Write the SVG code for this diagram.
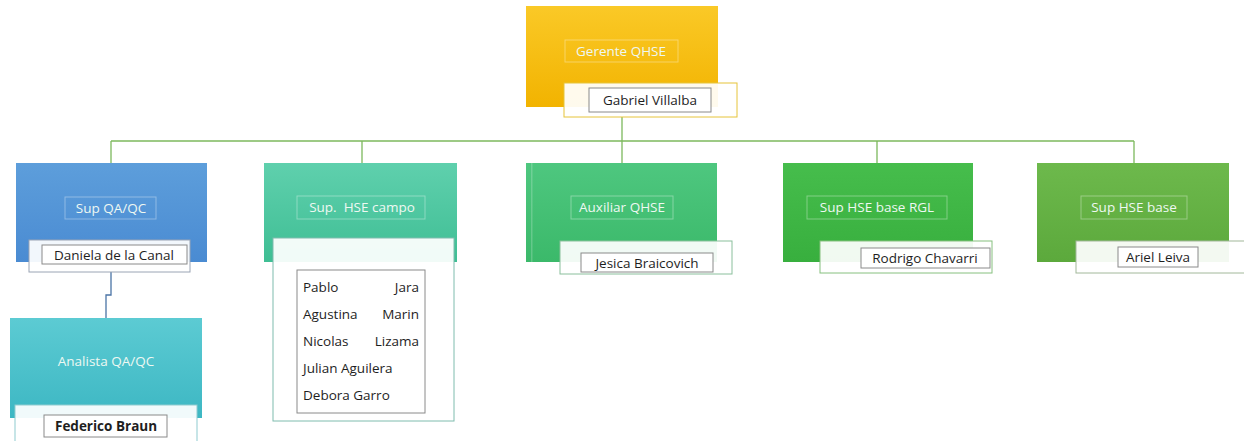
<svg xmlns="http://www.w3.org/2000/svg" width="1244" height="441" viewBox="0 0 1244 441">
<defs>
<linearGradient id="gOrange" x1="0" y1="0" x2="0" y2="1"><stop offset="0" stop-color="#fac927"/><stop offset="1" stop-color="#f2b300"/></linearGradient>
<linearGradient id="gBlue" x1="0" y1="0" x2="0" y2="1"><stop offset="0" stop-color="#5d9edb"/><stop offset="1" stop-color="#4a8bd2"/></linearGradient>
<linearGradient id="gTeal" x1="0" y1="0" x2="0" y2="1"><stop offset="0" stop-color="#5fd0ad"/><stop offset="1" stop-color="#3fbe94"/></linearGradient>
<linearGradient id="gCyan" x1="0" y1="0" x2="0" y2="1"><stop offset="0" stop-color="#5ccbd3"/><stop offset="1" stop-color="#3db7c3"/></linearGradient>
<linearGradient id="gGreen1" x1="0" y1="0" x2="0" y2="1"><stop offset="0" stop-color="#4ec77f"/><stop offset="1" stop-color="#3bb96a"/></linearGradient>
<linearGradient id="gGreen2" x1="0" y1="0" x2="0" y2="1"><stop offset="0" stop-color="#46bd4c"/><stop offset="1" stop-color="#38af3e"/></linearGradient>
<linearGradient id="gGreen3" x1="0" y1="0" x2="0" y2="1"><stop offset="0" stop-color="#6db94c"/><stop offset="1" stop-color="#5ca93c"/></linearGradient>
</defs>
<style>
.title{font-family:"Open Sans","Liberation Sans",sans-serif;font-size:13.5px;fill:#eef8f2;text-anchor:middle;white-space:pre}
.tbox{fill:none;stroke:#ffffff;stroke-opacity:0.35;stroke-width:1}
.card{fill:#ffffff;fill-opacity:0.93;stroke-width:1}
.name{fill:#ffffff;stroke:#8a8a8a;stroke-width:1}
.nt{font-family:"Open Sans","Liberation Sans",sans-serif;font-size:13.5px;fill:#1e1e1e}
.nc{text-anchor:middle}
.conn{fill:none;stroke:#7cb85c;stroke-width:1.3}
</style>
<g id="connectors">
<path class="conn" d="M622 117 V141"/>
<path class="conn" d="M111 141 H1134"/>
<path class="conn" d="M111 141 V163"/>
<path class="conn" d="M362 141 V163"/>
<path class="conn" d="M622 141 V163"/>
<path class="conn" d="M877 141 V163"/>
<path class="conn" d="M1134 141 V163"/>
<path fill="none" stroke="#4b74a6" stroke-width="1.3" d="M111 272 V295 H106 V318"/>
</g>
<g id="gerente">
<rect x="526" y="6" width="192" height="101" fill="url(#gOrange)"/>
<rect class="tbox" x="565" y="40" width="113" height="22" stroke="#d9a000" stroke-opacity="0.6"/>
<text class="title" x="621" y="56">Gerente QHSE</text>
<rect class="card" x="564" y="83" width="173" height="34" stroke="#e6c43a"/>
<rect class="name" x="589" y="88" width="122" height="24"/>
<text class="nt nc" x="650" y="105">Gabriel Villalba</text>
</g>
<g id="sup-qaqc">
<rect x="16" y="163" width="191" height="99" fill="url(#gBlue)"/>
<rect class="tbox" x="65" y="197" width="91" height="22"/>
<text class="title" x="111" y="213">Sup QA/QC</text>
<rect class="card" x="29" y="240" width="161" height="32" stroke="#9aa4b4"/>
<rect class="name" x="42" y="245" width="145" height="19"/>
<text class="nt nc" x="114" y="259.5">Daniela de la Canal</text>
</g>
<g id="sup-hse-campo">
<rect x="264" y="163" width="193" height="99" fill="url(#gTeal)"/>
<rect class="tbox" x="297" y="196" width="128" height="23"/>
<text class="title" x="362" y="212" xml:space="preserve">Sup.  HSE campo</text>
<rect class="card" x="273" y="238" width="181" height="183" stroke="#7fbcae"/>
<rect class="name" x="297" y="270" width="128" height="143"/>
<text class="nt" x="303" y="292">Pablo</text><text class="nt" x="419" y="292" text-anchor="end">Jara</text>
<text class="nt" x="303" y="319">Agustina</text><text class="nt" x="419" y="319" text-anchor="end">Marin</text>
<text class="nt" x="303" y="346">Nicolas</text><text class="nt" x="419" y="346" text-anchor="end">Lizama</text>
<text class="nt" x="303" y="373">Julian Aguilera</text>
<text class="nt" x="303" y="400">Debora Garro</text>
</g>
<g id="analista-qaqc">
<rect x="10" y="318" width="192" height="100" fill="url(#gCyan)"/>
<text class="title" x="106" y="366">Analista QA/QC</text>
<rect class="card" x="15" y="405" width="182" height="40" stroke="#8fcbd0"/>
<rect class="name" x="44" y="415" width="123" height="22"/>
<text class="nt nc" x="106" y="431" font-weight="bold">Federico Braun</text>
</g>
<g id="auxiliar-qhse">
<rect x="526" y="163" width="191" height="99" fill="url(#gGreen1)"/>
<rect x="531" y="163" width="1.5" height="99" fill="#ffffff" fill-opacity="0.2"/>
<rect class="tbox" x="571" y="196" width="102" height="23"/>
<text class="title" x="622" y="212">Auxiliar QHSE</text>
<rect class="card" x="560" y="241" width="172" height="33" stroke="#8abf9c"/>
<rect class="name" x="581" y="253" width="132" height="19" stroke="#b08a8a"/>
<text class="nt nc" x="647" y="267.5">Jesica Braicovich</text>
</g>
<g id="sup-hse-base-rgl">
<rect x="783" y="163" width="190" height="99" fill="url(#gGreen2)"/>
<rect class="tbox" x="807" y="196" width="140" height="23"/>
<text class="title" x="877" y="212">Sup HSE base RGL</text>
<rect class="card" x="820" y="241" width="172" height="32" stroke="#86c07e"/>
<rect class="name" x="861" y="248" width="129" height="20"/>
<text class="nt nc" x="925" y="263">Rodrigo Chavarri</text>
</g>
<g id="sup-hse-base">
<rect x="1037" y="163" width="192" height="99" fill="url(#gGreen3)"/>
<rect class="tbox" x="1081" y="196" width="106" height="23"/>
<text class="title" x="1134" y="212">Sup HSE base</text>
<rect class="card" x="1076" y="241" width="180" height="32" stroke="#a2b89a"/>
<rect class="name" x="1118" y="247" width="80" height="20"/>
<text class="nt nc" x="1158" y="262">Ariel Leiva</text>
</g>
</svg>
